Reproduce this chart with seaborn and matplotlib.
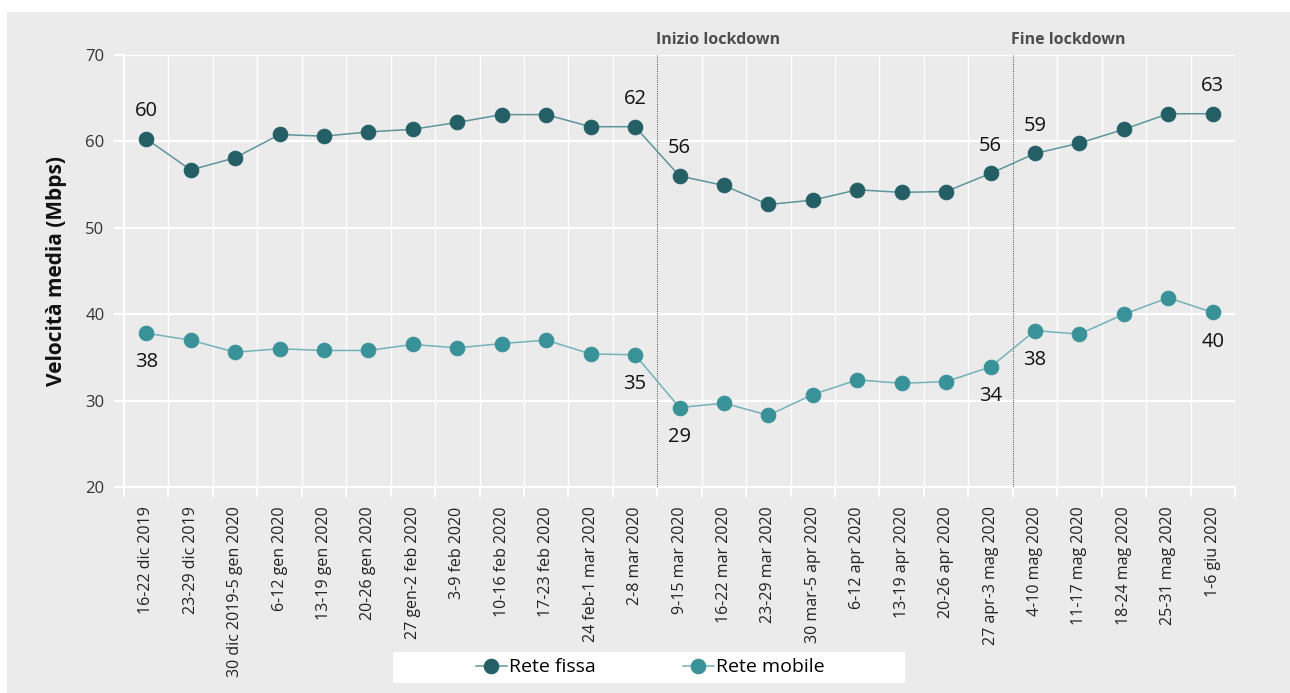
import matplotlib
matplotlib.use("Agg")
import matplotlib.pyplot as plt
from matplotlib.patches import Rectangle
from matplotlib.ticker import FixedLocator
import seaborn as sns
import pandas as pd
import numpy as np

weeks = [
    "16-22 dic 2019", "23-29 dic 2019", "30 dic 2019-5 gen 2020", "6-12 gen 2020",
    "13-19 gen 2020", "20-26 gen 2020", "27 gen-2 feb 2020", "3-9 feb 2020",
    "10-16 feb 2020", "17-23 feb 2020", "24 feb-1 mar 2020", "2-8 mar 2020",
    "9-15 mar 2020", "16-22 mar 2020", "23-29 mar 2020", "30 mar-5 apr 2020",
    "6-12 apr 2020", "13-19 apr 2020", "20-26 apr 2020", "27 apr-3 mag 2020",
    "4-10 mag 2020", "11-17 mag 2020", "18-24 mag 2020", "25-31 mag 2020", "1-6 giu 2020",
]
rete_fissa = [60.3, 56.7, 58.1, 60.8, 60.6, 61.1, 61.4, 62.2, 63.1, 63.1, 61.7, 61.7,
              56.0, 54.9, 52.7, 53.2, 54.4, 54.1, 54.2, 56.3, 58.6, 59.8, 61.4, 63.2, 63.2]
rete_mobile = [37.8, 37.0, 35.6, 36.0, 35.8, 35.8, 36.5, 36.1, 36.6, 37.0, 35.4, 35.3,
               29.2, 29.7, 28.3, 30.7, 32.4, 32.0, 32.2, 33.9, 38.1, 37.7, 40.0, 41.9, 40.2]
series_names = ["Rete fissa", "Rete mobile"]
labelled_idx = [0, 11, 12, 19, 20, 24]
events = ["Inizio lockdown", "Fine lockdown"]
event_pos = [11.5, 19.5]  # boundaries between weeks
y_ticks = [20, 30, 40, 50, 60, 70]

plt.rcParams['font.family'] = ['Open Sans', 'DejaVu Sans']

BG = "#ebebeb"
fig = plt.figure(figsize=(12.9, 6.93), dpi=100, facecolor="white")
fig.patches.append(Rectangle((7 / 1290, 0), 1, (693 - 12) / 693, transform=fig.transFigure,
                             facecolor=BG, edgecolor="none", zorder=-10))
ax = fig.add_axes([124 / 1290, 1 - 487 / 693, (1235 - 124) / 1290, (487 - 55) / 693])
ax.set_facecolor(BG)

df = pd.DataFrame({"x": np.arange(len(weeks)), "fissa": rete_fissa, "mobile": rete_mobile})

marker_cols = ["#245f66", "#3a9299"]
line_cols = ["#5d949a", "#74b2b7"]
for col, name, mc, lc in zip(["fissa", "mobile"], series_names, marker_cols, line_cols):
    sns.lineplot(data=df, x="x", y=col, ax=ax, color=lc, linewidth=1.1, marker="o",
                 markersize=10.5, markerfacecolor=mc, markeredgecolor=mc, label=name, zorder=5)

ax.set_xlim(-0.5, len(weeks) - 0.5)
ax.set_ylim(20, 70)
ax.set_yticks(y_ticks)
ax.set_xticks(np.arange(len(weeks)))
ax.set_xticklabels(weeks, rotation=90, fontsize=11.5, color="#222222")
ax.xaxis.set_minor_locator(FixedLocator(np.arange(-0.5, len(weeks), 1.0)))
ax.tick_params(axis="x", which="major", length=0, pad=14)
ax.tick_params(axis="x", which="minor", length=7, width=1.5, color="white")
ax.tick_params(axis="y", length=7, width=1.5, color="white", labelsize=12, labelcolor="#333333", pad=7)
ax.grid(axis="y", which="major", color="white", linewidth=1.6)
ax.grid(axis="x", which="minor", color="white", linewidth=1.0)
ax.grid(axis="x", which="major", visible=False)
ax.set_axisbelow(True)
for s in ["top", "right"]:
    ax.spines[s].set_visible(False)
for s in ["left", "bottom"]:
    ax.spines[s].set_color("white")
    ax.spines[s].set_linewidth(1.6)

ax.set_xlabel("")
ax.set_ylabel("Velocità media (Mbps)", fontsize=15, fontweight="bold", color="#111111", labelpad=13)

for i in labelled_idx:
    ax.annotate(f"{rete_fissa[i]:.0f}", (i, rete_fissa[i]), xytext=(0, 20), textcoords="offset points",
                ha="center", va="center", fontsize=14.5, color="#111111")
    ax.annotate(f"{rete_mobile[i]:.0f}", (i, rete_mobile[i]), xytext=(0, -21), textcoords="offset points",
                ha="center", va="center", fontsize=14.5, color="#111111")

for name, xp in zip(events, event_pos):
    ax.axvline(xp, color="#555555", linestyle=(0, (1, 1)), linewidth=0.8, zorder=3)
    ax.annotate(name, (xp, 1.0), xycoords=("data", "axes fraction"), xytext=(-1, 5),
                textcoords="offset points", ha="left", va="bottom", fontsize=11.5,
                fontweight="bold", color="#4d4d4d")

ax.get_legend().remove()
fig.patches.append(Rectangle((393 / 1290, (693 - 683) / 693), 512 / 1290, 31 / 693,
                             transform=fig.transFigure, facecolor="white", edgecolor="none", zorder=-5))
handles, labels = ax.get_legend_handles_labels()
fig.legend(handles, labels, loc="center", bbox_to_anchor=(650 / 1290, (693 - 667.5) / 693),
           ncol=2, frameon=False, fontsize=14, handlelength=1.6, handletextpad=0.1,
           columnspacing=4.5)

fig.savefig("out.png", dpi=100, facecolor=fig.get_facecolor())
